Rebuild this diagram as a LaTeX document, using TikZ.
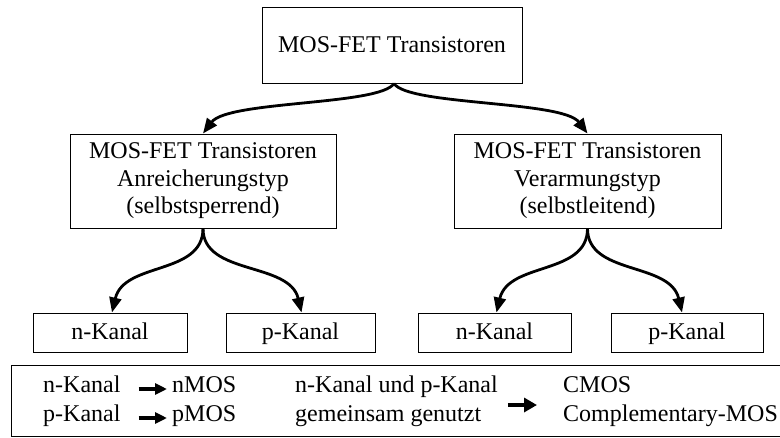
\documentclass[tikz,border=0pt]{standalone}
\usepackage{fontspec}
\setmainfont{Liberation Serif}
\usetikzlibrary{arrows.meta}
\tikzset{
  every node/.style={font=\fontsize{24}{27.5}\selectfont, inner sep=0pt},
  box/.style={draw, line width=1pt, align=center},
  topbox/.style={box, minimum width=260pt, minimum height=76pt},
  midbox/.style={box, minimum width=266pt, minimum height=94pt},
  kanalbox/.style={box, minimum width=152pt, minimum height=39pt, text height=17pt, text depth=3pt},
  curvearrow/.style={line width=2.8pt, -{Triangle[length=15pt 0 0,width=12pt 0 0]}},
  legarrow/.style={line width=3.4pt, -{Triangle[length=12pt 0 0,width=11pt 0 0]}},
  bigarrow/.style={line width=3.4pt, -{Triangle[length=13pt 0 0,width=14pt 0 0]}},
  legtext/.style={anchor=base west},
}
\begin{document}
\begin{tikzpicture}[x=1pt,y=-1pt]
\useasboundingbox (0,0) rectangle (780,437);
% boxes
\node[topbox] (top) at (392,45) {MOS-FET Transistoren};
\node[midbox] (ml) at (203,181) {MOS-FET Transistoren\\Anreicherungstyp\\(selbstsperrend)};
\node[midbox, minimum width=267pt] (mr) at (587.5,181) {MOS-FET Transistoren\\Verarmungstyp\\(selbstleitend)};
\node[kanalbox, minimum width=154pt] (nk1) at (110,332.5) {n-Kanal};
\node[kanalbox, minimum width=149pt] (pk1) at (300.5,332.5) {p-Kanal};
\node[kanalbox, minimum width=153pt] (nk2) at (494.5,332.5) {n-Kanal};
\node[kanalbox, minimum width=152pt] (pk2) at (687,332.5) {p-Kanal};
% curved connectors
\draw[curvearrow] ([xshift=2pt]top.south) .. controls +(-14,22) and +(25,-33) .. (ml.north);
\draw[curvearrow] ([xshift=2pt]top.south) .. controls +(14,22) and +(-25,-33) .. (mr.north);
\draw[curvearrow] (ml.south) .. controls +(0,47) and +(12,-51) .. ([xshift=2pt]nk1.north);
\draw[curvearrow] (ml.south) .. controls +(0,47) and +(-12,-51) .. ([xshift=1pt]pk1.north);
\draw[curvearrow] (mr.south) .. controls +(0,47) and +(12,-51) .. ([xshift=2pt]nk2.north);
\draw[curvearrow] (mr.south) .. controls +(0,47) and +(-12,-51) .. ([xshift=-5pt]pk2.north);
% legend
\node[draw, line width=1.2pt, minimum width=772pt, minimum height=71pt, anchor=north west] (legend) at (11,365) {};
\node[legtext] (lnk) at (43,392) {n-Kanal};
\node[legtext] (lnmos) at (172,392) {nMOS};
\node[legtext] (lpk) at (43,421) {p-Kanal};
\node[legtext] (lpmos) at (172,421) {pMOS};
\node[legtext] (lund) at (295,392) {n-Kanal und p-Kanal};
\node[legtext] (lgem) at (295,421) {gemeinsam genutzt};
\node[legtext] (lcmos) at (563,392) {CMOS};
\node[legtext] (lcomp) at (563,421) {Complementary-MOS};
\draw[legarrow] ([xshift=18pt,yshift=3pt]lnk.base east) -- ([xshift=-5pt,yshift=3pt]lnmos.base west);
\draw[legarrow] ([xshift=18pt,yshift=3pt]lpk.base east) -- ([xshift=-5pt,yshift=3pt]lpmos.base west);
\draw[bigarrow] ([xshift=10pt,yshift=-13pt]lund.base east) -- ([xshift=-26pt,yshift=-13pt]lcmos.base west);
\end{tikzpicture}
\end{document}
